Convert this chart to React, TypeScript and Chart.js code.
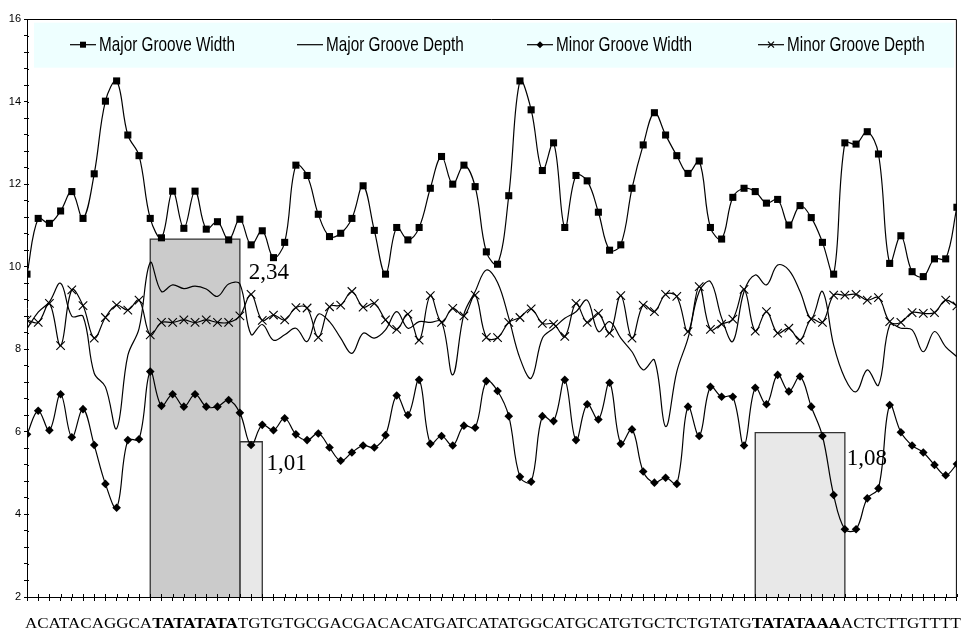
import React, { useEffect, useRef } from 'react';
import { Chart, registerables } from 'chart.js';

Chart.register(...registerables);

// ---- DATA ----
const sequenceParts = ['ACATACAGGCA', 'TATATATA', 'TGTGTGCGACGACACATGATCATATGGCATGCATGTGCTCTGTATG', 'TATATAAA', 'ACTCTTGTTTT'];
const sequenceBold = [false, true, false, true, false];

const seriesLabels = ['Major Groove Width', 'Major Groove Depth', 'Minor Groove Width', 'Minor Groove Depth'];

const majorGrooveWidth = [
  9.82, 11.17, 11.05, 11.35, 11.82, 11.17, 12.25, 14.01, 14.5, 13.19,
  12.69, 11.17, 10.7, 11.83, 10.93, 11.83, 10.91, 11.09, 10.65, 11.15,
  10.53, 10.87, 10.22, 10.59, 12.46, 12.21, 11.27, 10.73, 10.81, 11.17,
  11.96, 10.88, 9.82, 10.95, 10.65, 10.95, 11.9, 12.67, 12.0, 12.46,
  11.94, 10.36, 10.06, 11.72, 14.5, 13.8, 12.33, 13.0, 10.95, 12.21,
  12.08, 11.32, 10.4, 10.53, 11.9, 12.95, 13.73, 13.19, 12.69, 12.26,
  12.56, 10.95, 10.67, 11.68, 11.9, 11.82, 11.54, 11.63, 11.01, 11.48,
  11.19, 10.59, 9.82, 13.0, 12.97, 13.27, 12.73, 10.08, 10.75, 9.88,
  9.76, 10.19, 10.19, 11.44,
];

const majorGrooveDepth = [
  8.5, 8.9, 9.15, 9.6, 8.8, 8.8, 7.42, 7.09, 6.08, 7.85,
  8.5, 10.1, 9.4, 9.56, 9.47, 9.53, 9.46, 9.28, 9.58, 9.58,
  8.36, 8.6, 8.22, 8.35, 8.51, 8.19, 8.85, 8.67, 8.27, 7.9,
  8.39, 8.27, 8.47, 8.91, 8.51, 8.67, 8.65, 8.67, 7.38, 8.85,
  9.4, 9.92, 9.62, 8.76, 7.78, 7.3, 8.27, 8.51, 8.75, 8.91,
  9.19, 8.43, 8.67, 8.27, 7.94, 7.5, 7.74, 6.13, 7.46, 8.27,
  9.4, 9.64, 8.76, 8.19, 9.4, 9.8, 9.56, 10.04, 9.92, 9.4,
  8.75, 9.4, 8.1, 7.3, 6.97, 7.5, 7.13, 8.59, 8.51, 8.47,
  7.94, 8.43, 8.06, 7.82,
];

const minorGrooveWidth = [
  5.94, 6.51, 6.04, 6.91, 5.87, 6.55, 5.68, 4.74, 4.16, 5.8,
  5.82, 7.46, 6.63, 6.91, 6.61, 6.91, 6.61, 6.61, 6.77, 6.46,
  5.68, 6.17, 6.04, 6.33, 5.94, 5.8, 5.96, 5.62, 5.3, 5.5,
  5.67, 5.62, 5.92, 6.88, 6.41, 7.26, 5.71, 5.9, 5.67, 6.15,
  6.1, 7.23, 6.99, 6.38, 4.91, 4.79, 6.38, 6.26, 7.26, 5.8,
  6.67, 6.3, 7.19, 5.71, 6.06, 5.04, 4.77, 4.89, 4.74, 6.61,
  5.9, 7.09, 6.85, 6.85, 5.67, 7.07, 6.67, 7.38, 6.98, 7.34,
  6.61, 5.9, 4.47, 3.64, 3.64, 4.39, 4.63, 6.65, 5.99, 5.67,
  5.5, 5.2, 4.95, 5.22,
];

const minorGrooveDepth = [
  8.71, 8.65, 9.11, 8.09, 9.44, 9.06, 8.27, 8.77, 9.07, 8.95,
  9.19, 8.35, 8.65, 8.65, 8.71, 8.65, 8.71, 8.65, 8.65, 8.81,
  9.33, 8.7, 8.83, 8.71, 9.01, 9.0, 8.29, 9.03, 9.07, 9.4,
  9.02, 9.11, 8.71, 8.48, 8.85, 8.22, 9.3, 8.65, 8.99, 8.81,
  9.31, 8.29, 8.28, 8.65, 8.77, 8.98, 8.63, 8.61, 8.31, 9.11,
  8.65, 8.87, 8.39, 9.3, 8.27, 9.07, 8.91, 9.33, 9.28, 8.43,
  9.52, 8.48, 8.61, 8.73, 9.45, 8.44, 8.91, 8.39, 8.51, 8.22,
  8.73, 8.65, 9.31, 9.31, 9.33, 9.19, 9.25, 8.67, 8.65, 8.89,
  8.87, 8.89, 9.19, 9.05,
];

// highlighted regions (category index range) with their heights and labels
const boxStart = [11, 19, 65];
const boxEnd = [19, 21, 73];
const boxTop = [10.67, 5.76, 5.98];
const boxLabels = ['2,34', '1,01', '1,08'];
// label anchors in data coordinates (x index, y value at text baseline)
const boxLabelX = [19.8, 21.37, 73.17];
const boxLabelY = [9.7, 5.08, 5.2];

const yTickLabels = [2, 4, 6, 8, 10, 12, 14, 16];
const yMin = 2;
const yMax = 16;

// ---- STYLE ----
const SANS = "'Liberation Sans', Arial, sans-serif";
const SERIF = "'Liberation Serif', 'Times New Roman', serif";
const boxFills = ['#cbcbcb', '#e8e8e8', '#e8e8e8'];

function drawMarker(ctx: CanvasRenderingContext2D, kind: string, x: number, y: number, r: number) {
  ctx.beginPath();
  if (kind === 'rect') {
    ctx.fillRect(x - r, y - r, 2 * r, 2 * r);
  } else if (kind === 'rectRot') {
    ctx.moveTo(x, y - r);
    ctx.lineTo(x + r, y);
    ctx.lineTo(x, y + r);
    ctx.lineTo(x - r, y);
    ctx.closePath();
    ctx.fill();
  } else if (kind === 'crossRot') {
    ctx.moveTo(x - r, y - r);
    ctx.lineTo(x + r, y + r);
    ctx.moveTo(x + r, y - r);
    ctx.lineTo(x - r, y + r);
    ctx.stroke();
  }
}

const decorPlugin = {
  id: 'decor',
  afterDraw(chart: any) {
    const { ctx, chartArea: a, scales } = chart;
    const xs = scales.x;
    const ys = scales.y;
    ctx.save();

    // plot frame (top + right)
    ctx.strokeStyle = '#000';
    ctx.lineWidth = 1;
    ctx.beginPath();
    ctx.moveTo(a.left, a.top + 0.5);
    ctx.lineTo(a.right - 0.5, a.top + 0.5);
    ctx.lineTo(a.right - 0.5, a.bottom);
    ctx.stroke();

    // inner halves of the cross tick marks
    ctx.beginPath();
    xs.ticks.forEach((t: any) => {
      const px = Math.round(xs.getPixelForValue(t.value)) + 0.5;
      ctx.moveTo(px, a.bottom);
      ctx.lineTo(px, a.bottom - 3);
    });
    ys.ticks.forEach((t: any) => {
      const py = Math.round(ys.getPixelForValue(t.value)) + 0.5;
      ctx.moveTo(a.left, py);
      ctx.lineTo(a.left + 2, py);
    });
    ctx.stroke();

    // box value labels
    ctx.fillStyle = '#000';
    ctx.font = `23px ${SERIF}`;
    ctx.textBaseline = 'alphabetic';
    ctx.textAlign = 'left';
    boxLabels.forEach((t, i) => {
      ctx.fillText(t, xs.getPixelForValue(boxLabelX[i]), ys.getPixelForValue(boxLabelY[i]));
    });

    // legend (inside plot area)
    const lx = a.left + 7;
    const ly = a.top + 3.7;
    ctx.fillStyle = '#eeffff';
    ctx.fillRect(lx, ly, a.right - 3 - lx, 45);
    const itemX = [43, 270, 500, 731];
    const kinds = ['rect', '', 'rectRot', 'crossRot'];
    const sizes = [3, 0, 3.5, 3];
    const cy = ly + 22;
    ctx.font = `21px ${SANS}`;
    ctx.textBaseline = 'middle';
    const squeeze = 136 / ctx.measureText(seriesLabels[0]).width;
    seriesLabels.forEach((label, i) => {
      const sx = a.left + itemX[i];
      ctx.strokeStyle = '#000';
      ctx.fillStyle = '#000';
      ctx.lineWidth = 1.2;
      ctx.beginPath();
      ctx.moveTo(sx, cy);
      ctx.lineTo(sx + 26, cy);
      ctx.stroke();
      if (kinds[i]) drawMarker(ctx, kinds[i], sx + 13, cy, sizes[i]);
      ctx.save();
      ctx.translate(sx + 29, cy + 1);
      ctx.scale(squeeze, 1);
      ctx.fillText(label, 0, 0);
      ctx.restore();
    });

    // sequence text along the category axis, stretched over the axis width
    const startX = a.left - 2;
    const targetW = a.right + 4 - startX;
    const baseY = a.bottom + 31;
    let total = 0;
    sequenceParts.forEach((part, i) => {
      ctx.font = `${sequenceBold[i] ? 'bold ' : ''}15px ${SERIF}`;
      total += ctx.measureText(part).width;
    });
    const stretch = targetW / total;
    ctx.textBaseline = 'alphabetic';
    ctx.fillStyle = '#000';
    ctx.save();
    ctx.translate(startX, baseY);
    ctx.scale(stretch, 1);
    let tx = 0;
    sequenceParts.forEach((part, i) => {
      ctx.font = `${sequenceBold[i] ? 'bold ' : ''}15px ${SERIF}`;
      ctx.fillText(part, tx, 0);
      tx += ctx.measureText(part).width;
    });
    ctx.restore();

    ctx.restore();
  },
};

export default function App() {
  const ref = useRef<HTMLCanvasElement | null>(null);

  useEffect(() => {
    if (!ref.current) return;
    const toXY = (arr: number[]) => arr.map((y, i) => ({ x: i, y }));
    const boxDatasets = boxStart.map((s, i) => ({
      label: `box${i}`,
      data: [
        { x: s, y: yMin },
        { x: s, y: boxTop[i] },
        { x: boxEnd[i], y: boxTop[i] },
        { x: boxEnd[i], y: yMin },
      ],
      borderColor: '#333',
      borderWidth: 1.3,
      backgroundColor: boxFills[i],
      fill: 'start',
      pointRadius: 0,
      tension: 0,
      order: 10,
    }));
    const lineBase = {
      borderColor: '#000',
      borderWidth: 1.2,
      backgroundColor: '#000',
      pointBorderColor: '#000',
      pointBackgroundColor: '#000',
      tension: 0.38,
      fill: false,
      order: 1,
    };
    const chart = new Chart(ref.current, {
      type: 'line',
      data: {
        datasets: [
          ...boxDatasets,
          { ...lineBase, label: seriesLabels[0], data: toXY(majorGrooveWidth), pointStyle: 'rect', pointRadius: 5, pointBorderWidth: 0 },
          { ...lineBase, label: seriesLabels[1], data: toXY(majorGrooveDepth), pointRadius: 0 },
          { ...lineBase, label: seriesLabels[2], data: toXY(minorGrooveWidth), pointStyle: 'rectRot', pointRadius: 4.3, pointBorderWidth: 0 },
          { ...lineBase, label: seriesLabels[3], data: toXY(minorGrooveDepth), pointStyle: 'crossRot', pointRadius: 6, pointBorderWidth: 1.1 },
        ] as any,
      },
      options: {
        animation: false,
        responsive: true,
        maintainAspectRatio: false,
        layout: { padding: { top: 19, right: 6, left: 0, bottom: 0 } },
        plugins: { legend: { display: false }, tooltip: { enabled: false } },
        scales: {
          x: {
            type: 'linear',
            min: 0,
            max: sequenceParts.join('').length - 1,
            ticks: { stepSize: 1, display: false, autoSkip: false },
            grid: { drawOnChartArea: false, drawTicks: true, tickLength: 4, color: '#000', lineWidth: 1 },
            border: { color: '#000', width: 1 },
            afterFit: (s: any) => { s.height = 33; },
          },
          y: {
            min: yMin,
            max: yMax,
            ticks: {
              stepSize: 0.4,
              autoSkip: false,
              padding: 3,
              color: '#000',
              font: { family: SANS, size: 11 },
              callback: (value: any) => {
                const v = Math.round(Number(value) * 10) / 10;
                return yTickLabels.includes(v) ? String(v) : '';
              },
            },
            grid: { drawOnChartArea: false, drawTicks: true, tickLength: 3, color: '#000', lineWidth: 1 },
            border: { color: '#000', width: 1 },
            afterFit: (s: any) => { s.width = 27; },
          },
        },
      } as any,
      plugins: [decorPlugin],
    });
    return () => chart.destroy();
  }, []);

  return (
    <div style={{ position: 'absolute', left: 0, top: 0, width: 964, height: 630, background: '#fff' }}>
      <canvas ref={ref} />
    </div>
  );
}
